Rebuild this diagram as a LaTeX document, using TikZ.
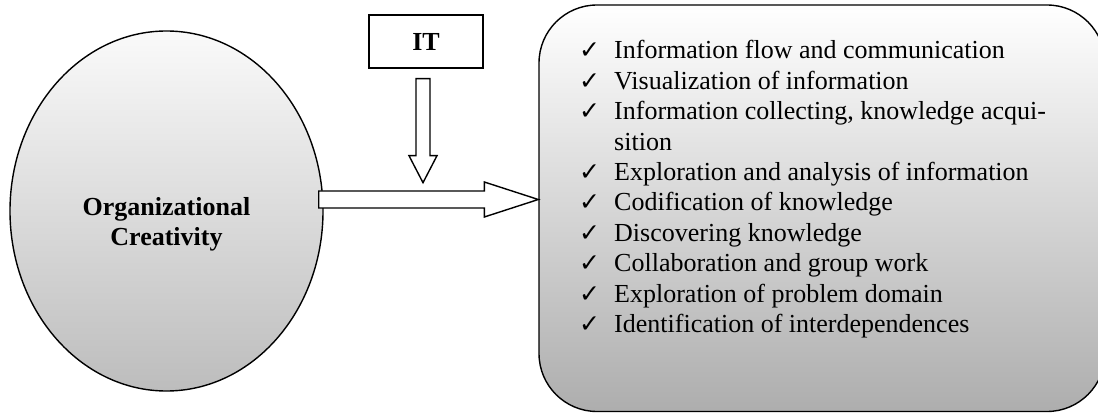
\documentclass[tikz,border=0pt]{standalone}
\usepackage{fontspec}
\setmainfont{Liberation Serif}
\newfontfamily\tickfont{DejaVu Sans}
\usetikzlibrary{calc,shapes.geometric}

\newcommand{\chk}{\makebox[35pt][l]{\tickfont\fontsize{25}{25}\selectfont ✓}}

\begin{document}
\begin{tikzpicture}[
    x=1pt, y=1pt,
    every node/.style={font=\fontsize{26}{30.4}\selectfont},
    blob/.style={draw, ellipse, line width=1.4pt, inner sep=0pt, minimum width=313pt, minimum height=360pt, top color=black!2, bottom color=black!26},
    itbox/.style={draw, line width=1.4pt, inner sep=0pt, minimum width=114pt, minimum height=53pt, font=\fontsize{26}{30.4}\selectfont\bfseries},
    listbox/.style={draw, rounded corners=58pt, line width=1.4pt, inner sep=0pt, minimum width=566pt, minimum height=406.5pt, top color=white, bottom color=black!32},
    fat/.style={draw, line width=1.4pt, fill=white, line join=miter},
]
    \useasboundingbox (0,0) rectangle (1098,413);

    \node[blob] (oc) at (166.5,202) {};
    \node[align=center, font=\fontsize{26}{30.4}\selectfont\bfseries] (octext) at (166.5,189) {Organizational\\Creativity};
    \node[itbox] (it) at (426,371.5) {IT};
    \node[listbox] (list) at (822,204.75) {};

    \node[anchor=base west, inner sep=0pt] (items) at (579,354) {\begin{tabular}[t]{@{}l@{}}
        \chk Information flow and communication\\
        \chk Visualization of information\\
        \chk Information collecting, knowledge acqui-\\
        \makebox[35pt]{}sition\\
        \chk Exploration and analysis of information\\
        \chk Codification of knowledge\\
        \chk Discovering knowledge\\
        \chk Collaboration and group work\\
        \chk Exploration of problem domain\\
        \chk Identification of interdependences
    \end{tabular}};

    % block arrows
    \path (oc.east) ++(-5,11.5) coordinate (rtail);
    \coordinate (rtip) at (list.west |- rtail);
    \draw[fat] let \p1=(rtail), \p2=(rtip) in
        (\x1,\y1+8.5pt) -- (\x2-54pt,\y1+8.5pt) -- (\x2-54pt,\y1+17.5pt) -- (\p2)
        -- (\x2-54pt,\y1-17.5pt) -- (\x2-54pt,\y1-8.5pt) -- (\x1,\y1-8.5pt) -- cycle;

    \path (it.south) ++(-3,-10) coordinate (dtail);
    \path (dtail) ++(0,-104) coordinate (dtip);
    \draw[fat] let \p1=(dtail), \p2=(dtip) in
        (\x1-7pt,\y1) -- (\x1-7pt,\y2+27pt) -- (\x1-14pt,\y2+27pt) -- (\p2)
        -- (\x1+14pt,\y2+27pt) -- (\x1+7pt,\y2+27pt) -- (\x1+7pt,\y1) -- cycle;
\end{tikzpicture}
\end{document}
